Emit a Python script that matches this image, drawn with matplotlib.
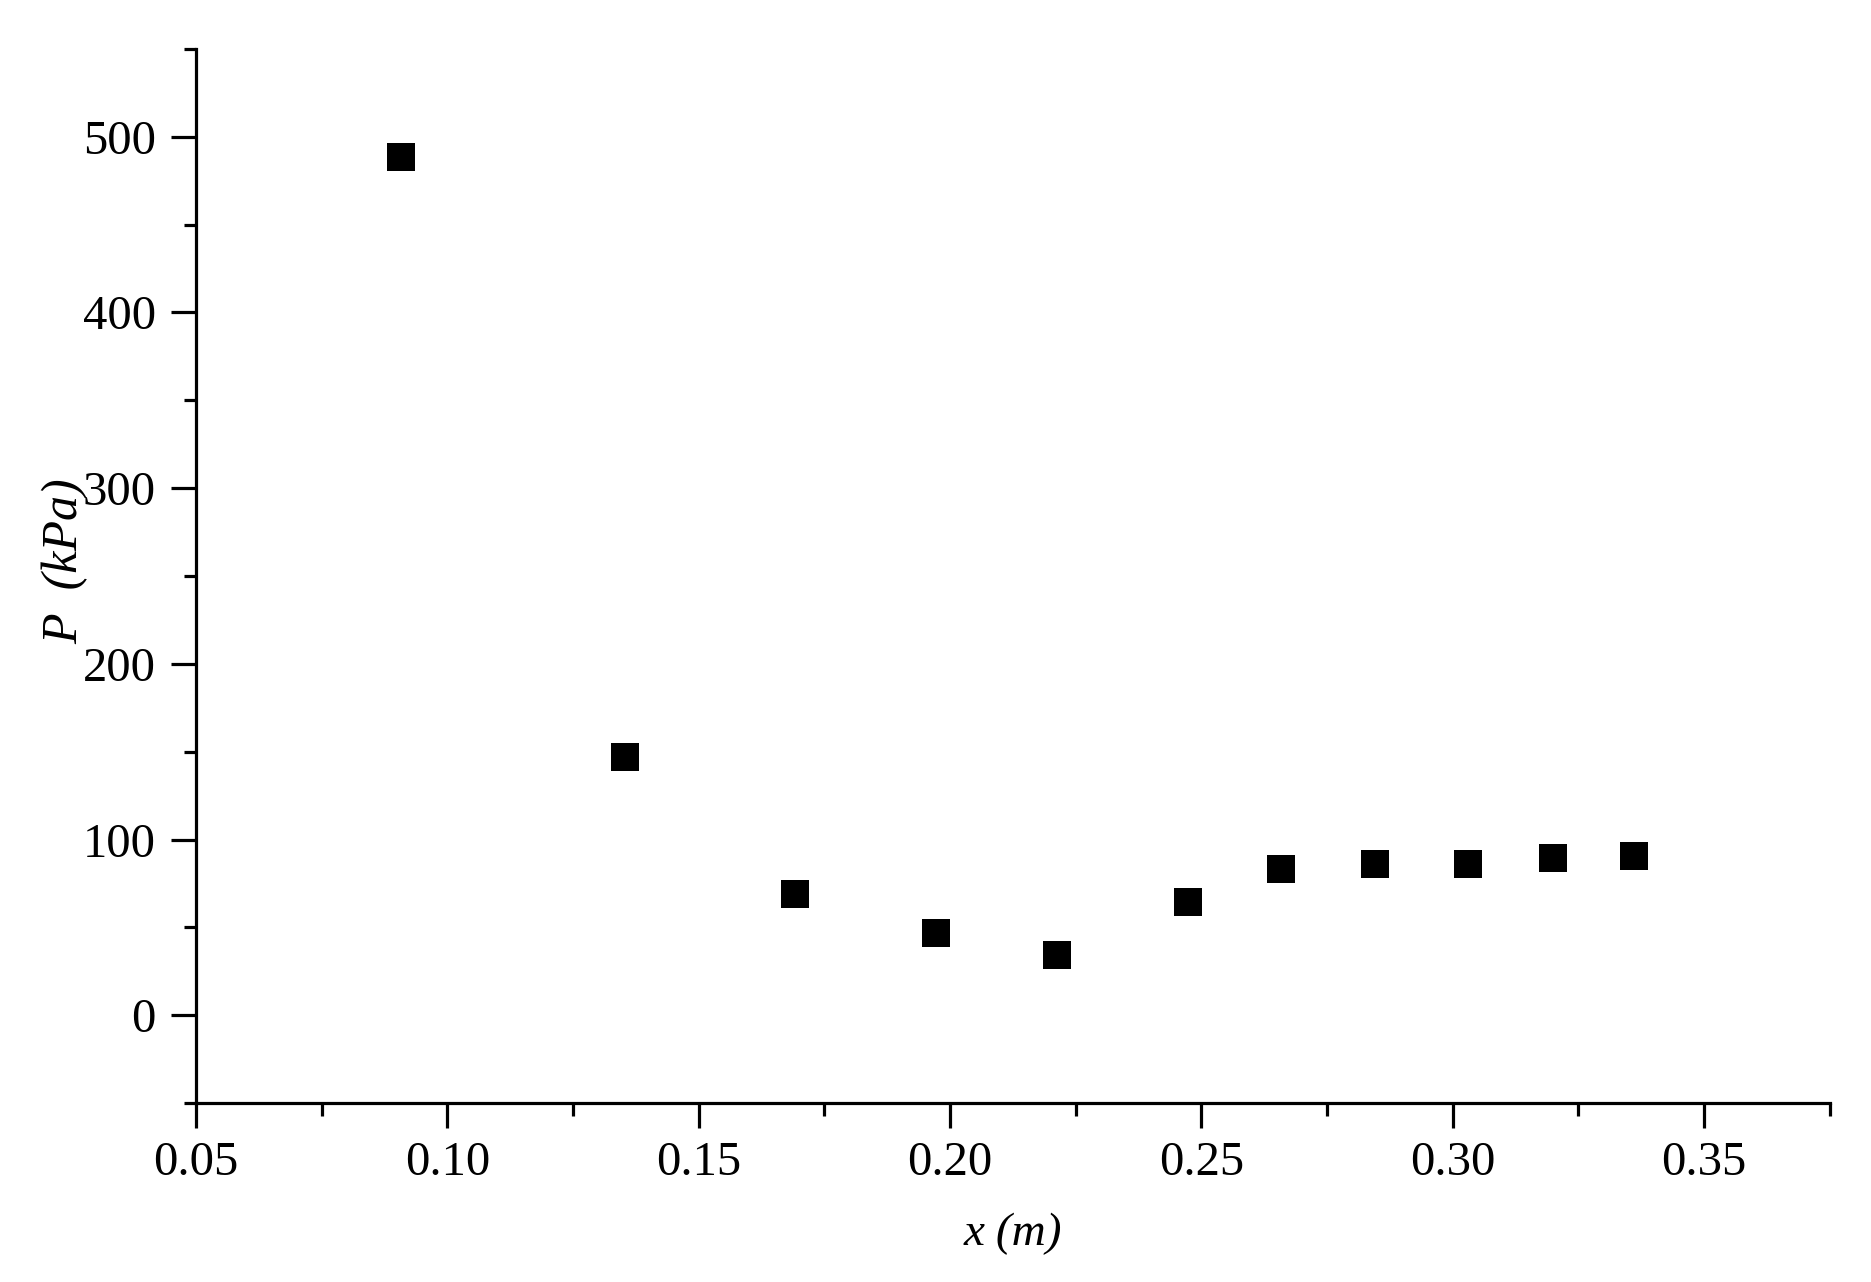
#!/usr/bin/env python3
"""
Pressure vs. distance scatter, square markers.
"""

import matplotlib
matplotlib.use("Agg")
import matplotlib.pyplot as plt
from matplotlib.ticker import MultipleLocator, FormatStrFormatter

x_m = [0.0907, 0.1354, 0.1691, 0.1971, 0.2212, 0.2473, 0.2658, 0.2845, 0.3031, 0.3200, 0.3361]
p_kpa = [488.4, 146.9, 69.2, 46.8, 34.1, 64.5, 83.5, 86.0, 86.0, 89.2, 90.8]

plt.rcParams["font.family"] = ["Liberation Serif", "DejaVu Serif"]

fig = plt.figure(figsize=(18.71, 12.82), dpi=100)
ax = fig.add_axes([0.1048, 0.1396, 0.978 - 0.1048, 0.9618 - 0.1396])

ax.scatter(x_m, p_kpa, marker="s", s=20 ** 2, color="black", linewidths=0, zorder=3)

ax.set_xlim(0.05, 0.375)
ax.set_ylim(-50, 550)
ax.xaxis.set_major_locator(MultipleLocator(0.05))
ax.xaxis.set_minor_locator(MultipleLocator(0.025))
ax.xaxis.set_major_formatter(FormatStrFormatter("%.2f"))
ax.yaxis.set_major_locator(MultipleLocator(100))
ax.yaxis.set_minor_locator(MultipleLocator(50))

for side in ("top", "right"):
    ax.spines[side].set_visible(False)
for side in ("left", "bottom"):
    ax.spines[side].set_linewidth(2.3)

ax.tick_params(which="major", direction="out", length=18, width=2.3, labelsize=35, colors="black")
ax.tick_params(which="minor", direction="out", length=9, width=2.3)
ax.tick_params(axis="x", which="major", pad=9)
ax.tick_params(axis="y", which="major", pad=11)

ax.set_xlabel("x (m)", fontsize=34, fontstyle="italic", labelpad=20)
ax.set_ylabel("P  (kPa)", fontsize=36, fontstyle="italic")
ax.yaxis.set_label_coords(-0.066, 0.514)

fig.savefig("out.png", dpi=100, facecolor="white")
